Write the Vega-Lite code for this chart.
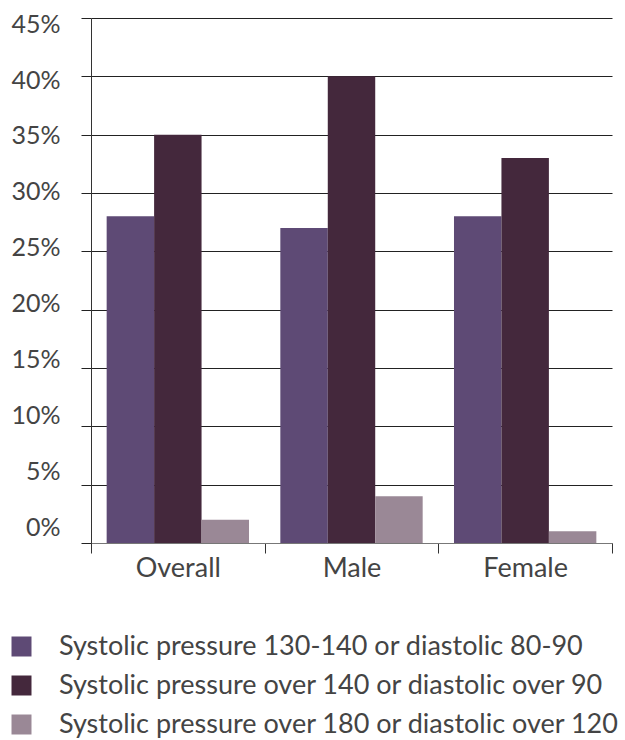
{
  "$schema": "https://vega.github.io/schema/vega-lite/v6.json",
  "width": 521,
  "height": 525,
  "autosize": {"type": "none"},
  "padding": {"left": 91, "top": 18, "right": 13, "bottom": 197},
  "background": "white",
  "config": {"view": {"stroke": null}, "font": "Lato"},
  "data": {
    "values": [
      {"cat": "Overall", "series": "Systolic pressure 130-140 or diastolic 80-90", "value": 28},
      {"cat": "Overall", "series": "Systolic pressure over 140 or diastolic over 90", "value": 35},
      {"cat": "Overall", "series": "Systolic pressure over 180 or diastolic over 120", "value": 2},
      {"cat": "Male", "series": "Systolic pressure 130-140 or diastolic 80-90", "value": 27},
      {"cat": "Male", "series": "Systolic pressure over 140 or diastolic over 90", "value": 40},
      {"cat": "Male", "series": "Systolic pressure over 180 or diastolic over 120", "value": 4},
      {"cat": "Female", "series": "Systolic pressure 130-140 or diastolic 80-90", "value": 28},
      {"cat": "Female", "series": "Systolic pressure over 140 or diastolic over 90", "value": 33},
      {"cat": "Female", "series": "Systolic pressure over 180 or diastolic over 120", "value": 1}
    ]
  },
  "mark": {"type": "bar"},
  "encoding": {
    "x": {
      "field": "cat",
      "type": "nominal",
      "sort": ["Overall", "Male", "Female"],
      "scale": {"paddingInner": 0, "paddingOuter": 0},
      "axis": {
        "title": null,
        "labelAngle": 0,
        "tickBand": "extent",
        "grid": false,
        "domainColor": "#777",
        "tickColor": "#333",
        "tickSize": 10,
        "labelFontSize": 27,
        "labelColor": "#444",
        "labelPadding": 2
      }
    },
    "xOffset": {
      "field": "series",
      "type": "nominal",
      "sort": [
        "Systolic pressure 130-140 or diastolic 80-90",
        "Systolic pressure over 140 or diastolic over 90",
        "Systolic pressure over 180 or diastolic over 120"
      ],
      "scale": {"paddingInner": 0, "paddingOuter": 0.33}
    },
    "y": {
      "field": "value",
      "type": "quantitative",
      "scale": {"domain": [0, 45]},
      "axis": {
        "title": null,
        "values": [0, 5, 10, 15, 20, 25, 30, 35, 40, 45],
        "grid": true,
        "gridColor": "#222",
        "domainColor": "#333",
        "tickColor": "#222",
        "tickSize": 10,
        "labelExpr": "datum.value + '%'",
        "labelFontSize": 25,
        "labelColor": "#444",
        "labelPadding": 21,
        "labelOffset": {"expr": "datum.value*0.48-15.5"}
      }
    },
    "color": {
      "field": "series",
      "type": "nominal",
      "sort": [
        "Systolic pressure 130-140 or diastolic 80-90",
        "Systolic pressure over 140 or diastolic over 90",
        "Systolic pressure over 180 or diastolic over 120"
      ],
      "scale": {
        "domain": [
          "Systolic pressure 130-140 or diastolic 80-90",
          "Systolic pressure over 140 or diastolic over 90",
          "Systolic pressure over 180 or diastolic over 120"
        ],
        "range": ["#5e4a75", "#44283c", "#9a8896"]
      },
      "legend": {
        "orient": "none",
        "legendX": -83,
        "legendY": 615,
        "direction": "vertical",
        "title": null,
        "symbolType": "square",
        "symbolSize": 400,
        "symbolStrokeWidth": 0,
        "labelFontSize": 27,
        "labelColor": "#444",
        "labelLimit": 600,
        "rowPadding": 11,
        "labelOffset": 24
      }
    }
  }
}
